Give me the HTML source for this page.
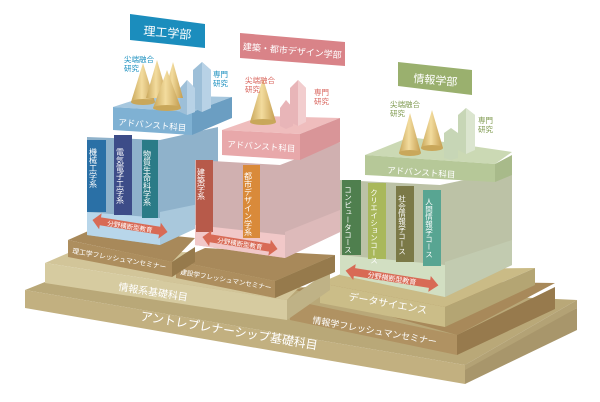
<!DOCTYPE html>
<html><head><meta charset="utf-8"><style>
html,body{margin:0;padding:0;background:#fff;width:600px;height:402px;overflow:hidden}
svg{display:block}
text{font-family:"Liberation Sans","Noto Sans CJK JP",sans-serif}
.v{writing-mode:vertical-rl;glyph-orientation-vertical:0}
</style></head><body>
<svg width="600" height="402" viewBox="0 0 600 402" xmlns="http://www.w3.org/2000/svg">
<defs>
<linearGradient id="cone" x1="0" x2="1"><stop offset="0" stop-color="#c9a75a"/><stop offset=".45" stop-color="#f3dc9e"/><stop offset="1" stop-color="#c39c4e"/></linearGradient>
</defs>

<!-- big base slab -->
<polygon points="25,290 60,276 577,300 465,365" fill="#b9a878"/>
<polygon points="25,290 465,365 465,384 25,308" fill="#c2b080"/>
<polygon points="465,365 577,308 577,330 465,384" fill="#a8966b"/>
<polygon points="465,365 577,300 577,308 465,370" fill="#b3a275"/>
<text x="140" y="320" font-size="12" fill="#fff" transform="rotate(9.5 140 320)">アントレプレナーシップ基礎科目</text>

<!-- 情報学フレッシュマン slab -->
<polygon points="295,290 330,280 555,283 457,335" fill="#a8895a"/>
<polygon points="290,300 457,335 457,355 290,320" fill="#b09262"/>
<polygon points="457,335 555,287 555,309 457,355" fill="#977a4d"/>
<text x="312" y="323" font-size="9" fill="#fff" transform="rotate(10 312 323)">情報学フレッシュマンセミナー</text>

<!-- データサイエンス slab -->
<polygon points="320,283 350,270 535,268 445,307" fill="#cabb86"/>
<polygon points="320,283 445,307 445,327 320,303" fill="#cbbd88"/>
<polygon points="445,307 535,268 535,285 445,327" fill="#b4a573"/>
<text x="348" y="300" font-size="10" fill="#fff" transform="rotate(10 348 300)">データサイエンス</text>

<!-- 情報系基礎科目 slab -->
<polygon points="45,263 75,250 330,255 287,300" fill="#d2c599"/>
<polygon points="45,263 287,300 287,320 45,283" fill="#d6cba0"/>
<polygon points="287,300 330,270 330,290 287,320" fill="#bfb286"/>
<text x="118" y="290" font-size="10" fill="#fff" transform="rotate(9 118 290)">情報系基礎科目</text>

<!-- 建設学フレッシュマン -->
<polygon points="176,261 205,248 335,255 275,281" fill="#a8895a"/>
<polygon points="176,261 275,281 275,298 176,278" fill="#ad8e5e"/>
<polygon points="275,281 335,255 335,272 275,298" fill="#967a4c"/>
<text x="180" y="274" font-size="6.6" fill="#fff" transform="rotate(10 180 274)">建設学フレッシュマンセミナー</text>

<!-- 理工学フレッシュマン -->
<polygon points="68,240 95,228 195,238 172,262" fill="#a8895a"/>
<polygon points="68,240 172,262 172,277 68,257" fill="#ad8e5e"/>
<polygon points="172,262 195,247 195,262 172,277" fill="#967a4c"/>
<text x="72" y="253" font-size="6.8" fill="#fff" transform="rotate(10 72 253)">理工学フレッシュマンセミナー</text>

<!-- Blue block -->
<polygon points="87,137 160,140 218,127 218,218 160,245 87,235" fill="#8fb2cb"/>
<polygon points="160,212 218,200 218,218 160,245" fill="#a9c8dc"/>
<polygon points="87,212 160,218 160,245 87,235" fill="#b8d6ea"/>
<rect x="87" y="140" width="19" height="72" fill="#2a70a6"/>
<rect x="114" y="135" width="18" height="80" fill="#3d4c88"/>
<rect x="142" y="140" width="16" height="78" fill="#2b7b87"/>
<text x="93" y="148" font-size="8" fill="#fff" class="v">機械工学系</text>
<text x="120" y="148" font-size="8" fill="#fff" class="v">電気電子工学系</text>
<text x="147" y="150" font-size="8" fill="#fff" class="v">物質生命科学系</text>
<g transform="rotate(9 130 226)"><polygon points="92,226 100,218 100,222 160,222 160,218 168,226 160,234 160,230 100,230 100,234" fill="#d86a55"/>
<text x="130" y="229" font-size="6.5" fill="#fff" text-anchor="middle">分野横断型教育</text></g>
<!-- blue advanced slab -->
<polygon points="113,107 150,95 232,97 192,112" fill="#a6c7de"/>
<polygon points="113,107 192,112 192,135 113,130" fill="#7fb1d3"/>
<polygon points="192,112 232,97 232,118 192,135" fill="#6b9ec2"/>
<text x="118" y="125" font-size="8.5" fill="#fff" transform="rotate(5 118 125)">アドバンスト科目</text>
<!-- blue crystals & cones -->
<polygon points="193,70 202,62 211,70 211,108 202,112 193,108" fill="#9dbfd8"/><polygon points="202,62 211,70 211,108 202,112" fill="#b8d2e6"/>
<polygon points="180,88 187,80 195,88 195,112 187,115 180,112" fill="#9dbfd8"/><polygon points="187,80 195,88 195,112 187,115" fill="#b8d2e6"/>
<polygon points="143,63 131,102 155,102" fill="url(#cone)"/><ellipse cx="143" cy="102" rx="12" ry="3" fill="#c9a75a"/>
<polygon points="157,60 146,98 168,98" fill="url(#cone)"/>
<polygon points="173,62 163,98 183,98" fill="url(#cone)"/>
<polygon points="167,70 153,108 181,108" fill="url(#cone)"/><ellipse cx="167" cy="108" rx="14" ry="3" fill="#c9a75a"/>
<text x="124" y="62" font-size="7.5" fill="#1a8fbf">尖端融合</text><text x="124" y="71" font-size="7.5" fill="#1a8fbf">研究</text>
<text x="213" y="77" font-size="7.5" fill="#1a8fbf">専門</text><text x="213" y="86" font-size="7.5" fill="#1a8fbf">研究</text>
<polygon points="130,14 205,24 205,48 130,40" fill="#1b8dbd"/>
<text x="167" y="37" font-size="12" fill="#fff" text-anchor="middle" transform="rotate(5 167 37)">理工学部</text>

<!-- Pink block -->
<polygon points="195,160 280,165 340,142 340,232 285,258 195,245" fill="#d0b0b0"/>
<polygon points="285,232 340,210 340,232 285,258" fill="#ddbaba"/>
<polygon points="195,225 285,235 285,258 195,245" fill="#f1c8c8"/>
<rect x="196" y="160" width="17" height="72" fill="#b75a4a"/>
<rect x="243" y="165" width="17" height="73" fill="#d98a3a"/>
<text x="201" y="168" font-size="8" fill="#fff" class="v">建築学系</text>
<text x="248" y="172" font-size="8" fill="#fff" class="v">都市デザイン学系</text>
<g transform="rotate(9 240 243)"><polygon points="202,243 210,235 210,239 270,239 270,235 278,243 270,251 270,247 210,247 210,251" fill="#d86a55"/>
<text x="240" y="246" font-size="6.5" fill="#fff" text-anchor="middle">分野横断型教育</text></g>
<polygon points="222,130 262,116 340,118 300,134" fill="#efbdbd"/>
<polygon points="222,130 300,134 300,160 222,155" fill="#e8a8aa"/>
<polygon points="300,134 340,118 340,142 300,160" fill="#d99598"/>
<text x="227" y="147" font-size="8.5" fill="#fff" transform="rotate(4 227 147)">アドバンスト科目</text>
<polygon points="290,88 298,80 306,88 306,122 298,126 290,122" fill="#e8b5b8"/><polygon points="298,80 306,88 306,122 298,126" fill="#f2cdce"/>
<polygon points="280,108 286,100 293,108 293,126 286,129 280,126" fill="#e8b5b8"/>
<polygon points="263,78 250,122 276,122" fill="url(#cone)"/><ellipse cx="263" cy="122" rx="13" ry="3" fill="#c9a75a"/>
<text x="245" y="83" font-size="7.5" fill="#d9645c">尖端融合</text><text x="245" y="92" font-size="7.5" fill="#d9645c">研究</text>
<text x="314" y="95" font-size="7.5" fill="#d9645c">専門</text><text x="314" y="104" font-size="7.5" fill="#d9645c">研究</text>
<polygon points="240,33 345,42 345,66 240,58" fill="#d98388"/>
<text x="292" y="54" font-size="9" fill="#fff" text-anchor="middle" transform="rotate(5 292 54)">建築・都市デザイン学部</text>

<!-- Green block -->
<polygon points="340,180 440,185 512,170 512,265 445,297 340,275" fill="#bcc2a6"/>
<polygon points="445,262 512,240 512,265 445,297" fill="#c2cbb0"/>
<polygon points="340,255 445,265 445,297 340,275" fill="#d2dfc2"/>
<rect x="342" y="180" width="19" height="75" fill="#4f7f4e"/>
<rect x="368" y="183" width="18" height="76" fill="#a9b85b"/>
<rect x="396" y="186" width="18" height="76" fill="#7b7947"/>
<rect x="423" y="190" width="18" height="76" fill="#58a592"/>
<text x="348" y="186" font-size="7.5" fill="#fff" class="v">コンピュータコース</text>
<text x="374" y="189" font-size="7.5" fill="#fff" class="v">クリエイションコース</text>
<text x="402" y="195" font-size="7.5" fill="#fff" class="v">社会情報学コース</text>
<text x="429" y="198" font-size="7.5" fill="#fff" class="v">人間情報学コース</text>
<g transform="rotate(9 392 278)"><polygon points="345,278 354,270 354,274 430,274 430,270 439,278 430,286 430,282 354,282 354,286" fill="#d86a55"/>
<text x="392" y="281" font-size="7" fill="#fff" text-anchor="middle">分野横断型教育</text></g>
<polygon points="365,155 410,137 512,152 495,164" fill="#cbd9b4"/>
<polygon points="365,155 495,164 495,182 365,175" fill="#b6c898"/>
<polygon points="495,164 512,155 512,175 495,182" fill="#a8ba8a"/>
<text x="387" y="173" font-size="8.5" fill="#fff" transform="rotate(4 387 173)">アドバンスト科目</text>
<polygon points="458,115 466,108 475,115 475,150 466,154 458,150" fill="#c7d6b6"/><polygon points="466,108 475,115 475,150 466,154" fill="#dbe5cf"/>
<polygon points="444,133 451,128 458,133 458,158 451,160 444,158" fill="#c7d6b6"/>
<polygon points="410,113 399,153 421,153" fill="url(#cone)"/><ellipse cx="410" cy="153" rx="11" ry="3" fill="#c9a75a"/>
<polygon points="432,110 421,148 443,148" fill="url(#cone)"/><ellipse cx="432" cy="148" rx="11" ry="3" fill="#c9a75a"/>
<text x="390" y="107" font-size="7.5" fill="#7f9a4f">尖端融合</text><text x="390" y="116" font-size="7.5" fill="#7f9a4f">研究</text>
<text x="478" y="123" font-size="7.5" fill="#7f9a4f">専門</text><text x="478" y="132" font-size="7.5" fill="#7f9a4f">研究</text>
<polygon points="398,62 472,70 472,95 398,86" fill="#9ab06e"/>
<text x="435" y="84" font-size="11" fill="#fff" text-anchor="middle" transform="rotate(5 435 84)">情報学部</text>
</svg>
</body></html>
